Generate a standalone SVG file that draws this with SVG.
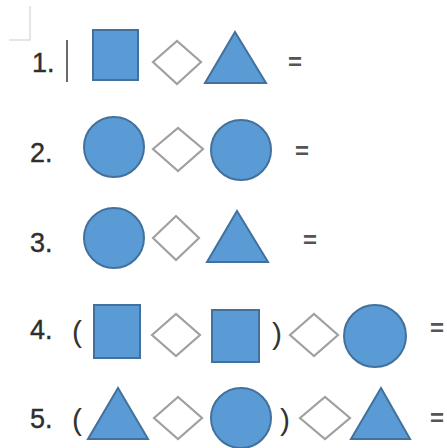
<svg xmlns="http://www.w3.org/2000/svg" width="447" height="448" viewBox="0 0 447 448">
<style>
.b{fill:#5b9bd5;stroke:#41719c;stroke-width:2}
.d{fill:#fff;stroke:#a0a0a0;stroke-width:2.2}
.t{font-family:"Liberation Sans",Arial,sans-serif;font-size:27px;fill:#2e2e2e;stroke:#2e2e2e;stroke-width:0.4}
.p{font-family:"Liberation Sans",Arial,sans-serif;font-size:30px;fill:#333}
.e{font-family:"Liberation Sans",Arial,sans-serif;font-size:24px;font-weight:bold;fill:#555}
</style>
<rect width="447" height="448" fill="#fff"/>
<path d="M30 6V40H9" fill="none" stroke="#ddd" stroke-width="1.5"/>
<g id="row1">
<text class="t" x="32" y="72">1.</text>
<line x1="67" y1="40" x2="67" y2="82" stroke="#444" stroke-width="1.6"/>
<rect class="b" x="93" y="30" width="45" height="50"/>
<polygon class="d" points="153,62 177,41 201,62 177,84"/>
<polygon class="b" points="235,32 266,83 205,83"/>
<text class="e" x="288" y="70">=</text>
</g>
<g id="row2">
<text class="t" x="30" y="162">2.</text>
<circle class="b" cx="114" cy="147" r="30"/>
<polygon class="d" points="153,149 178,128 203,149 178,171"/>
<circle class="b" cx="241" cy="150" r="30"/>
<text class="e" x="295" y="159">=</text>
</g>
<g id="row3">
<text class="t" x="30" y="252">3.</text>
<circle class="b" cx="114" cy="238" r="30"/>
<polygon class="d" points="153,238 176,216 199,238 176,260"/>
<polygon class="b" points="237,211 268,262 207,262"/>
<text class="e" x="303" y="248">=</text>
</g>
<g id="row4">
<text class="t" x="30" y="339">4.</text>
<text class="p" x="72" y="342">(</text>
<rect class="b" x="94" y="305" width="46" height="53"/>
<polygon class="d" points="152,335 176,314 200,335 176,356"/>
<rect class="b" x="212" y="310" width="47" height="52"/>
<text class="p" x="272" y="344">)</text>
<polygon class="d" points="290,335 314,314 338,335 314,356"/>
<circle class="b" cx="375" cy="336" r="31"/>
<text class="e" x="430" y="336">=</text>
</g>
<g id="row5">
<text class="t" x="30" y="428">5.</text>
<text class="p" x="72" y="430">(</text>
<polygon class="b" points="118,388 148,439 88,439"/>
<polygon class="d" points="154,418 178,397 202,418 178,439"/>
<circle class="b" cx="241" cy="418" r="30"/>
<text class="p" x="280" y="430">)</text>
<polygon class="d" points="300,418 325,397 350,418 325,439"/>
<polygon class="b" points="381,388 410,439 351,439"/>
<text class="e" x="430" y="426">=</text>
</g>
</svg>
